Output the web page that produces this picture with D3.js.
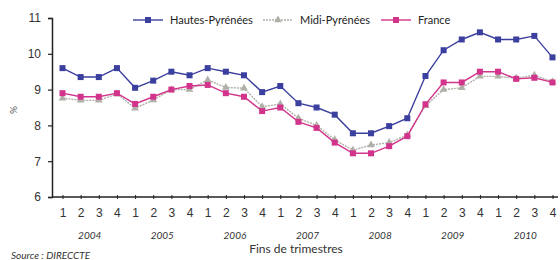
<!DOCTYPE html>
<html>
<head>
<meta charset="utf-8">
<script src="https://cdn.jsdelivr.net/npm/d3@7"></script>
<style>
  body { margin: 0; background: #fff; }
  svg { font-family: Lato, "Open Sans", sans-serif; }
</style>
</head>
<body>
<svg id="chart" width="560" height="260"></svg>
<script>
const YEARS = ['2004', '2005', '2006', '2007', '2008', '2009', '2010']
const QUARTERS = ['1', '2', '3', '4']
const Y_TICKS = [6, 7, 8, 9, 10, 11]

// taux de chômage, fins de trimestres
const hautesPyrenees = [9.6, 9.35, 9.35, 9.6, 9.05, 9.25, 9.5, 9.4, 9.6, 9.5, 9.4, 8.93, 9.1, 8.62, 8.5, 8.3, 7.78, 7.78, 7.98, 8.2, 9.38, 10.1, 10.4, 10.6, 10.4, 10.4, 10.5, 9.9]
const midiPyrenees = [8.76, 8.7, 8.7, 8.88, 8.48, 8.71, 9.0, 9.0, 9.27, 9.06, 9.04, 8.52, 8.6, 8.2, 8.0, 7.6, 7.31, 7.45, 7.52, 7.73, 8.55, 9.0, 9.05, 9.37, 9.37, 9.32, 9.4, 9.22]
const france = [8.9, 8.8, 8.8, 8.9, 8.6, 8.8, 9.0, 9.1, 9.13, 8.9, 8.8, 8.4, 8.5, 8.1, 7.93, 7.52, 7.22, 7.22, 7.42, 7.7, 8.59, 9.2, 9.2, 9.5, 9.5, 9.3, 9.33, 9.2]

const SERIES = [
  { name: 'Hautes-Pyrénées', values: hautesPyrenees, color: '#3b3f9e', marker: 'square', lx: 133, dash: null },
  { name: 'Midi-Pyrénées', values: midiPyrenees, color: '#b0b0a8', marker: 'triangle', lx: 263, dash: '2,1' },
  { name: 'France', values: france, color: '#d2348c', marker: 'square', lx: 381, dash: null }
]

const svg = d3.select('#chart')
const periods = YEARS.flatMap(y => QUARTERS.map(q => y + '-' + q))

const x = d3.scalePoint()
  .domain(periods)
  .range([62.5, 552.5])

const y = d3.scaleLinear()
  .domain([6, 11])
  .range([197, 18])

// axe des y
const yAxis = svg.append('g')
  .attr('transform', 'translate(52,0)')
  .call(d3.axisLeft(y).tickValues(Y_TICKS).tickFormat(d3.format('d')).tickSize(4).tickPadding(7))
yAxis.select('.domain').attr('stroke', '#222').attr('stroke-width', 1.5)
yAxis.selectAll('.tick line').attr('stroke', '#222').attr('stroke-width', 1.2)
yAxis.selectAll('.tick text').attr('font-size', 12).attr('fill', '#333')

svg.append('text')
  .attr('transform', 'translate(17,110) rotate(-90)')
  .attr('text-anchor', 'middle')
  .attr('font-size', 10)
  .attr('fill', '#555')
  .text('%')

// axe des x
const xAxis = svg.append('g')
  .attr('transform', 'translate(0,197)')
  .call(d3.axisBottom(x).tickSize(3).tickPadding(8).tickFormat(d => d.split('-')[1]))
xAxis.select('.domain').attr('d', 'M52,0H558').attr('stroke', '#222').attr('stroke-width', 1.5)
xAxis.selectAll('.tick line').attr('stroke', '#222').attr('y1', -2).attr('y2', 2)
xAxis.selectAll('.tick text').attr('font-size', 12).attr('fill', '#333')

svg.append('g')
  .selectAll('text')
  .data(YEARS)
  .enter()
  .append('text')
  .attr('x', d => (x(d + '-1') + x(d + '-4')) / 2)
  .attr('y', 239)
  .attr('text-anchor', 'middle')
  .attr('font-size', 10)
  .attr('font-style', 'italic')
  .attr('fill', '#333')
  .text(d => d)

svg.append('text')
  .attr('x', 296)
  .attr('y', 253)
  .attr('text-anchor', 'middle')
  .attr('font-size', 12)
  .attr('fill', '#333')
  .text('Fins de trimestres')

svg.append('text')
  .attr('x', 11)
  .attr('y', 259)
  .attr('font-size', 10)
  .attr('font-style', 'italic')
  .attr('fill', '#333')
  .text('Source : DIRECCTE')

// marqueurs
const drawMarker = (g, s, cx, cy) => {
  if (s.marker === 'triangle') {
    g.append('path')
      .attr('d', d3.symbol(d3.symbolTriangle, 26)())
      .attr('transform', `translate(${cx},${cy})`)
      .attr('fill', s.color)
  } else {
    g.append('rect')
      .attr('x', cx - 3)
      .attr('y', cy - 3)
      .attr('width', 6)
      .attr('height', 6)
      .attr('fill', s.color)
  }
}

const line = d3.line()
  .x((d, i) => x(periods[i]))
  .y(d => y(d))

const plot = svg.append('g')
SERIES.forEach(s => {
  plot.append('path')
    .datum(s.values)
    .attr('d', line)
    .attr('fill', 'none')
    .attr('stroke', s.color)
    .attr('stroke-width', 1.4)
    .attr('stroke-dasharray', s.dash)
  const g = plot.append('g')
  s.values.forEach((v, i) => drawMarker(g, s, x(periods[i]), y(v)))
})

// la légende
const legend = svg.append('g')
SERIES.forEach(s => {
  legend.append('line')
    .attr('x1', s.lx)
    .attr('x2', s.lx + 30)
    .attr('y1', 20)
    .attr('y2', 20)
    .attr('stroke', s.color)
    .attr('stroke-width', 1.4)
    .attr('stroke-dasharray', s.dash)
  drawMarker(legend, s, s.lx + 15, 20)
  legend.append('text')
    .attr('x', s.lx + 37)
    .attr('y', 24)
    .attr('font-size', 11)
    .attr('fill', '#222')
    .text(s.name)
})
</script>
</body>
</html>
